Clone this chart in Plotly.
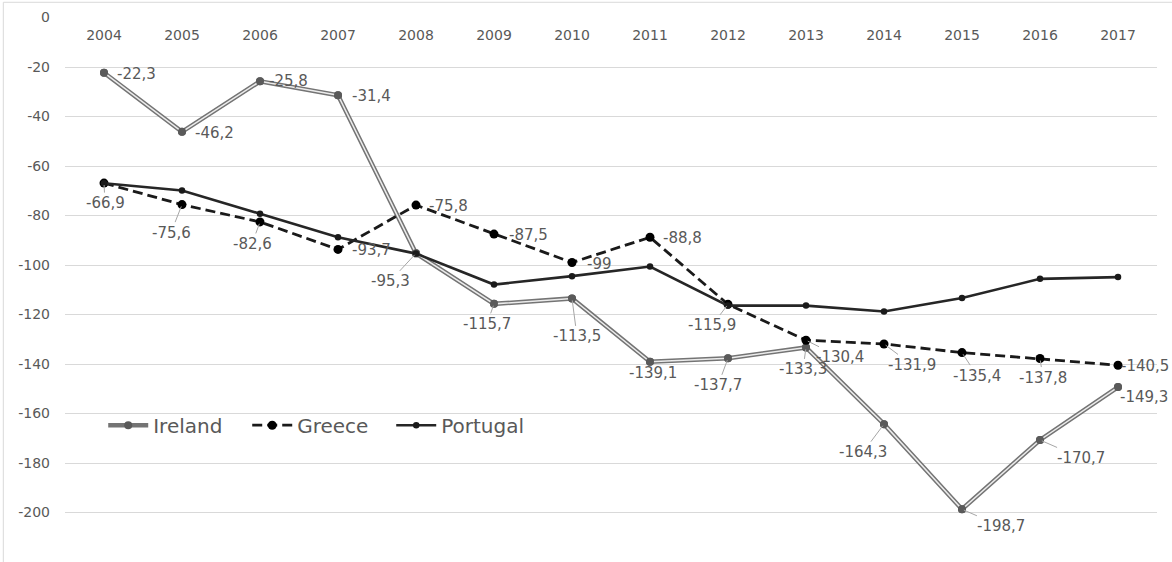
import plotly.graph_objects as go

# Yearly values per country
years = ["2004", "2005", "2006", "2007", "2008", "2009", "2010",
         "2011", "2012", "2013", "2014", "2015", "2016", "2017"]
ireland = [-22.3, -46.2, -25.8, -31.4, -95.3, -115.7, -113.5,
           -139.1, -137.7, -133.3, -164.3, -198.7, -170.7, -149.3]
greece = [-66.9, -75.6, -82.6, -93.7, -75.8, -87.5, -99.0,
          -88.8, -115.9, -130.4, -131.9, -135.4, -137.8, -140.5]
portugal = [-67.0, -69.9, -79.3, -88.8, -95.4, -107.9, -104.5,
            -100.6, -116.4, -116.4, -118.8, -113.3, -105.6, -104.9]
y_ticks = [0, -20, -40, -60, -80, -100, -120, -140, -160, -180, -200]

# Label placement: pixel offset of each label from its point, and whether a leader line is drawn
ireland_offsets = [(32, 1, 0), (32, 1, 0), (28, 0, 0), (33, 1, 0), (-26, 28, 1), (-7, 20, 1), (5, 38, 1),
                   (3, 11, 0), (-10, 27, 1), (-3, 22, 1), (-21, 28, 1), (39, 17, 1), (41, 18, 1), (26, 10, 0)]
greece_offsets = [(1, 20, 1), (-11, 28, 1), (-8, 22, 1), (33, 1, 0), (32, 1, 0), (34, 1, 0), (27, 1, 0),
                  (32, 1, 0), (-16, 21, 1), (34, 17, 1), (28, 21, 1), (15, 23, 1), (3, 19, 1), (27, 1, 0)]

FONT = "DejaVu Sans"
TEXT = "#595959"
GRID = "#d9d9d9"


def fmt(v):
    return f"{v:g}".replace(".", ",")


fig = go.Figure()

# Ireland: double (compound) grey line
fig.add_trace(go.Scatter(
    x=years, y=ireland, name="Ireland", mode="lines+markers",
    line=dict(color="#747474", width=4.5),
    marker=dict(color="#5a5a5a", size=8, symbol="circle"),
))
fig.add_trace(go.Scatter(
    x=years, y=ireland, mode="lines", showlegend=False, hoverinfo="skip",
    line=dict(color="#ececec", width=1.5),
))
fig.add_trace(go.Scatter(
    x=years, y=ireland, mode="markers", showlegend=False, hoverinfo="skip",
    marker=dict(color="#5a5a5a", size=8, symbol="circle"),
))
fig.add_trace(go.Scatter(
    x=years, y=greece, name="Greece", mode="lines+markers",
    line=dict(color="#1a1a1a", width=2.8, dash="10px,5px"),
    marker=dict(color="#000000", size=9, symbol="circle"),
))
fig.add_trace(go.Scatter(
    x=years, y=portugal, name="Portugal", mode="lines+markers",
    line=dict(color="#262626", width=2.6),
    marker=dict(color="#1a1a1a", size=6.5, symbol="circle"),
))

annotations = []
for series, offsets in ((ireland, ireland_offsets), (greece, greece_offsets)):
    for i, (v, (dx, dy, leader)) in enumerate(zip(series, offsets)):
        annotations.append(dict(
            x=i, y=v, xref="x", yref="y", text=fmt(v),
            showarrow=True, arrowhead=0, ax=dx, ay=dy,
            arrowwidth=1, standoff=2,
            arrowcolor="#a6a6a6" if leader else "rgba(0,0,0,0)",
            font=dict(family=FONT, size=15, color=TEXT),
        ))

# Chart border (left and top edges)
shapes = [
    dict(type="line", xref="paper", yref="paper", x0=-0.0565, x1=-0.0565, y0=0, y1=1.027,
         line=dict(color=GRID, width=1)),
    dict(type="line", xref="paper", yref="paper", x0=-0.0565, x1=1.02, y0=1.027, y1=1.027,
         line=dict(color=GRID, width=1)),
]

fig.update_layout(
    width=1172, height=562,
    margin=dict(l=65, r=15, t=17, b=0),
    paper_bgcolor="white", plot_bgcolor="white",
    font=dict(family=FONT, size=14, color=TEXT),
    showlegend=True,
    legend=dict(
        orientation="h", x=0.035, y=0.251, xanchor="left", yanchor="middle",
        font=dict(family=FONT, size=20, color=TEXT),
        bgcolor="rgba(0,0,0,0)", entrywidth=89, itemwidth=40,
    ),
    annotations=annotations,
    shapes=shapes,
    xaxis=dict(
        type="category", range=[-0.5, 13.5], side="bottom",
        anchor="free", position=0.985,
        showgrid=False, showline=False,
        zeroline=False, ticks="", tickfont=dict(family=FONT, size=14, color=TEXT),
    ),
    yaxis=dict(
        range=[-220, 0.2], tickvals=y_ticks, ticktext=[str(t) for t in y_ticks],
        showgrid=True, gridcolor=GRID, gridwidth=1, zeroline=False,
        showline=False, ticks="", ticklabelstandoff=14,
        tickfont=dict(family=FONT, size=14, color=TEXT),
    ),
)

fig.write_html("out.html")
